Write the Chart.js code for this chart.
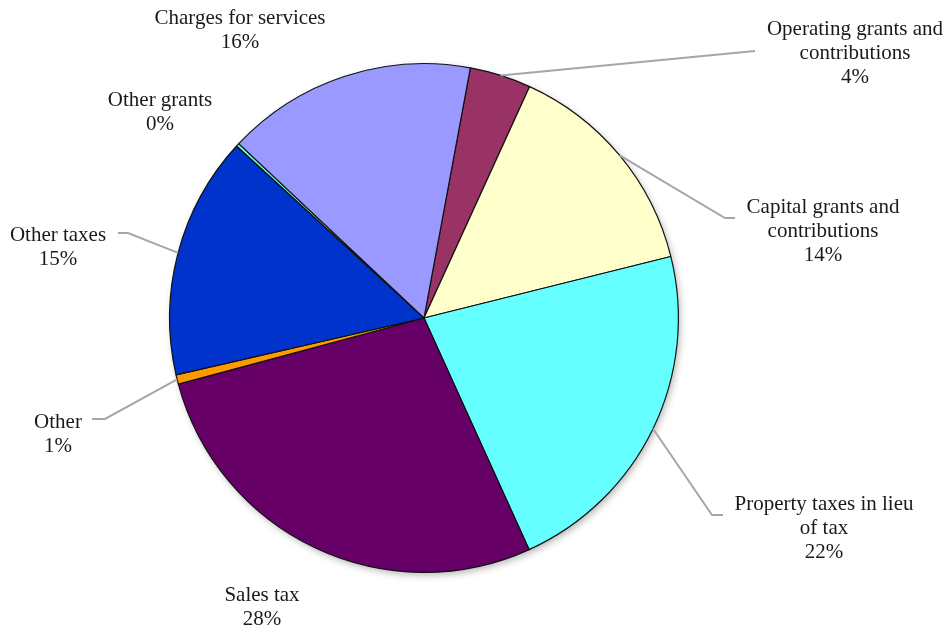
<!DOCTYPE html>
<html>
<head>
<meta charset="utf-8">
<script src="https://cdn.jsdelivr.net/npm/chart.js@4/dist/chart.umd.min.js"></script>
<style>
  html, body { margin: 0; padding: 0; background: #ffffff; }
  canvas { display: block; }
</style>
</head>
<body>
<canvas id="c" width="948" height="629"></canvas>
<script>
// Revenue sources, listed clockwise from the first slice
const categories = [
  'Operating grants and contributions',
  'Capital grants and contributions',
  'Property taxes in lieu of tax',
  'Sales tax',
  'Other',
  'Other taxes',
  'Other grants',
  'Charges for services'
];
// How each category name wraps on the chart
const labelLines = [
  ['Operating grants and', 'contributions'],
  ['Capital grants and', 'contributions'],
  ['Property taxes in lieu', 'of tax'],
  ['Sales tax'],
  ['Other'],
  ['Other taxes'],
  ['Other grants'],
  ['Charges for services']
];
// Share of total revenue (percent)
const shares = [3.9, 14.3, 22.1, 27.6, 0.6, 15.4, 0.2, 15.9];
const sliceColors = ['#993366', '#FFFFCC', '#66FFFF', '#660066', '#FF9900', '#0033CC', '#66FFD9', '#9999FF'];
// Angle (degrees clockwise from 12 o'clock) where the first slice begins
const firstSliceAngle = 10.5;

// Label placement: centre of the first text line, and the leader path
// (elbow point then end point) running from the slice edge to the text
const labelLayout = [
  { x: 855, y: 29,  leader: [[755, 51]] },
  { x: 823, y: 207, leader: [[725, 218], [735, 218]] },
  { x: 824, y: 504, leader: [[712, 515], [723, 515]] },
  { x: 262, y: 595, leader: null },
  { x: 58,  y: 422, leader: [[105, 419], [92, 419]] },
  { x: 58,  y: 235, leader: [[128, 233], [118, 233]] },
  { x: 160, y: 100, leader: null },
  { x: 240, y: 18,  leader: null }
];
const labelFont = '21px "Liberation Serif", "Times New Roman", serif';
const lineHeight = 24;

// Soft drop shadow under the whole pie
const pieShadow = {
  id: 'pieShadow',
  beforeDatasetsDraw(chart) {
    const arc = chart.getDatasetMeta(0).data[0];
    if (!arc) return;
    const { x, y, outerRadius } = arc.getProps(['x', 'y', 'outerRadius'], true);
    const ctx = chart.ctx;
    ctx.save();
    ctx.shadowColor = 'rgba(0,0,0,0.28)';
    ctx.shadowBlur = 7;
    ctx.shadowOffsetX = 2;
    ctx.shadowOffsetY = 3;
    ctx.beginPath();
    ctx.arc(x, y, outerRadius, 0, Math.PI * 2);
    ctx.fillStyle = '#ffffff';
    ctx.fill();
    ctx.restore();
  }
};

// Category name + rounded percentage, with grey leader lines
const sliceLabels = {
  id: 'sliceLabels',
  afterDatasetsDraw(chart) {
    const ctx = chart.ctx;
    const meta = chart.getDatasetMeta(0);
    const total = shares.reduce((a, b) => a + b, 0);
    meta.data.forEach((arc, i) => {
      const p = arc.getProps(['x', 'y', 'startAngle', 'endAngle', 'outerRadius'], true);
      const mid = (p.startAngle + p.endAngle) / 2;
      const ex = p.x + Math.cos(mid) * p.outerRadius;
      const ey = p.y + Math.sin(mid) * p.outerRadius;
      const lay = labelLayout[i];
      if (lay.leader) {
        ctx.save();
        ctx.strokeStyle = '#a6a6a6';
        ctx.lineWidth = 2;
        ctx.beginPath();
        ctx.moveTo(ex, ey);
        lay.leader.forEach(pt => ctx.lineTo(pt[0], pt[1]));
        ctx.stroke();
        ctx.restore();
      }
      const lines = labelLines[i].concat([Math.round(shares[i] / total * 100) + '%']);
      ctx.save();
      ctx.font = labelFont;
      ctx.fillStyle = '#1a1a1a';
      ctx.textAlign = 'center';
      ctx.textBaseline = 'middle';
      lines.forEach((t, k) => ctx.fillText(t, lay.x, lay.y + k * lineHeight));
      ctx.restore();
    });
  }
};

new Chart(document.getElementById('c'), {
  type: 'pie',
  data: {
    labels: categories,
    datasets: [{
      data: shares,
      backgroundColor: sliceColors,
      borderColor: '#111111',
      borderWidth: 1.2
    }]
  },
  options: {
    responsive: false,
    animation: false,
    devicePixelRatio: 1,
    rotation: firstSliceAngle,
    layout: { padding: { left: 169, top: 63, right: 269, bottom: 56 } },
    plugins: {
      legend: { display: false },
      tooltip: { enabled: false }
    }
  },
  plugins: [pieShadow, sliceLabels]
});
</script>
</body>
</html>
